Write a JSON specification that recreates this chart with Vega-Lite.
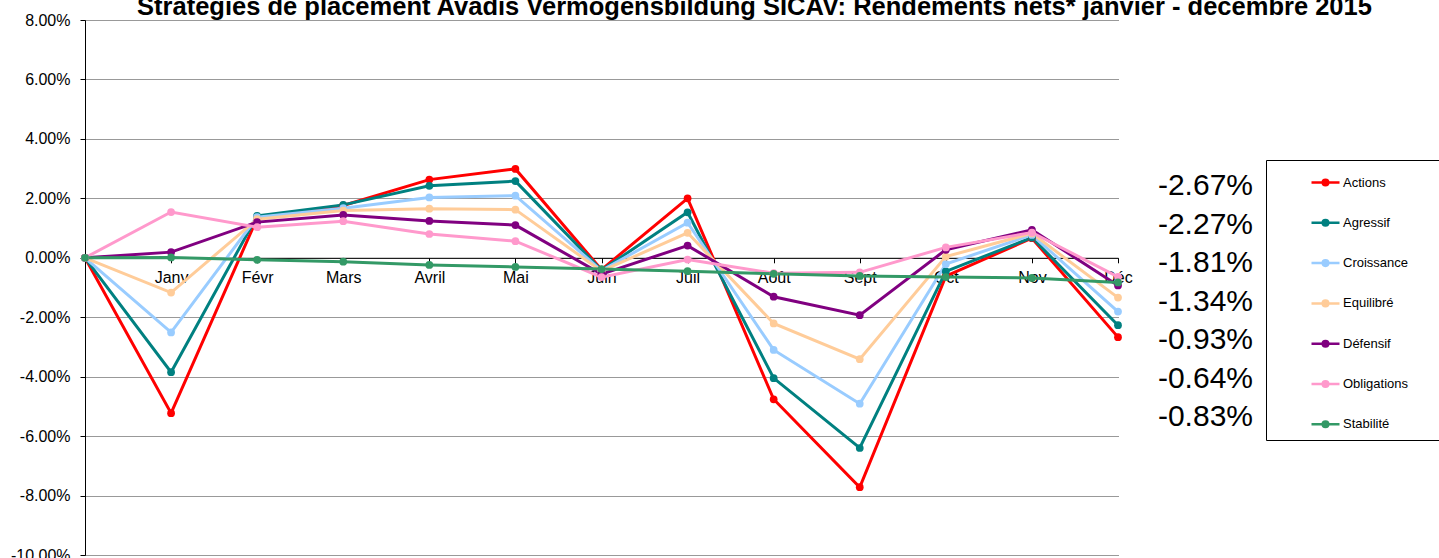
{
  "$schema": "https://vega.github.io/schema/vega-lite/v6.json",
  "autosize": {"type": "none"},
  "padding": {"left": 85, "top": 20, "right": 321, "bottom": 3},
  "width": 1033,
  "height": 535,
  "background": "white",
  "config": {"font": "Liberation Sans", "view": {"stroke": null}},
  "title": {
    "text": "Stratégies de placement Avadis Vermögensbildung SICAV: Rendements nets* janvier - décembre 2015",
    "fontSize": 25.5, "fontWeight": "bold", "font": "Liberation Sans", "color": "#000",
    "anchor": "middle", "frame": "group", "dx": 153, "offset": -8
  },
  "datasets": {
    "rows": [
      {"series": "Actions", "m": 0, "v": 0}, {"series": "Actions", "m": 1, "v": -0.0523}, {"series": "Actions", "m": 2, "v": 0.0133}, {"series": "Actions", "m": 3, "v": 0.0176}, {"series": "Actions", "m": 4, "v": 0.0263}, {"series": "Actions", "m": 5, "v": 0.0299}, {"series": "Actions", "m": 6, "v": -0.0040}, {"series": "Actions", "m": 7, "v": 0.0200}, {"series": "Actions", "m": 8, "v": -0.0476}, {"series": "Actions", "m": 9, "v": -0.0772}, {"series": "Actions", "m": 10, "v": -0.0062}, {"series": "Actions", "m": 11, "v": 0.0066}, {"series": "Actions", "m": 12, "v": -0.0267},
      {"series": "Agressif", "m": 0, "v": 0}, {"series": "Agressif", "m": 1, "v": -0.0385}, {"series": "Agressif", "m": 2, "v": 0.0141}, {"series": "Agressif", "m": 3, "v": 0.0178}, {"series": "Agressif", "m": 4, "v": 0.0242}, {"series": "Agressif", "m": 5, "v": 0.0258}, {"series": "Agressif", "m": 6, "v": -0.0042}, {"series": "Agressif", "m": 7, "v": 0.0153}, {"series": "Agressif", "m": 8, "v": -0.0405}, {"series": "Agressif", "m": 9, "v": -0.0640}, {"series": "Agressif", "m": 10, "v": -0.0046}, {"series": "Agressif", "m": 11, "v": 0.0068}, {"series": "Agressif", "m": 12, "v": -0.0227},
      {"series": "Croissance", "m": 0, "v": 0}, {"series": "Croissance", "m": 1, "v": -0.0251}, {"series": "Croissance", "m": 2, "v": 0.0137}, {"series": "Croissance", "m": 3, "v": 0.0167}, {"series": "Croissance", "m": 4, "v": 0.0203}, {"series": "Croissance", "m": 5, "v": 0.0209}, {"series": "Croissance", "m": 6, "v": -0.0043}, {"series": "Croissance", "m": 7, "v": 0.0118}, {"series": "Croissance", "m": 8, "v": -0.0310}, {"series": "Croissance", "m": 9, "v": -0.0491}, {"series": "Croissance", "m": 10, "v": -0.0021}, {"series": "Croissance", "m": 11, "v": 0.0077}, {"series": "Croissance", "m": 12, "v": -0.0181},
      {"series": "Equilibré", "m": 0, "v": 0}, {"series": "Equilibré", "m": 1, "v": -0.0117}, {"series": "Equilibré", "m": 2, "v": 0.0130}, {"series": "Equilibré", "m": 3, "v": 0.0159}, {"series": "Equilibré", "m": 4, "v": 0.0165}, {"series": "Equilibré", "m": 5, "v": 0.0162}, {"series": "Equilibré", "m": 6, "v": -0.0045}, {"series": "Equilibré", "m": 7, "v": 0.0084}, {"series": "Equilibré", "m": 8, "v": -0.0221}, {"series": "Equilibré", "m": 9, "v": -0.0341}, {"series": "Equilibré", "m": 10, "v": 0.0004}, {"series": "Equilibré", "m": 11, "v": 0.0082}, {"series": "Equilibré", "m": 12, "v": -0.0134},
      {"series": "Défensif", "m": 0, "v": 0}, {"series": "Défensif", "m": 1, "v": 0.0019}, {"series": "Défensif", "m": 2, "v": 0.0120}, {"series": "Défensif", "m": 3, "v": 0.0144}, {"series": "Défensif", "m": 4, "v": 0.0124}, {"series": "Défensif", "m": 5, "v": 0.0110}, {"series": "Défensif", "m": 6, "v": -0.0055}, {"series": "Défensif", "m": 7, "v": 0.0041}, {"series": "Défensif", "m": 8, "v": -0.0131}, {"series": "Défensif", "m": 9, "v": -0.0193}, {"series": "Défensif", "m": 10, "v": 0.0027}, {"series": "Défensif", "m": 11, "v": 0.0094}, {"series": "Défensif", "m": 12, "v": -0.0093},
      {"series": "Obligations", "m": 0, "v": 0}, {"series": "Obligations", "m": 1, "v": 0.0154}, {"series": "Obligations", "m": 2, "v": 0.0103}, {"series": "Obligations", "m": 3, "v": 0.0123}, {"series": "Obligations", "m": 4, "v": 0.0080}, {"series": "Obligations", "m": 5, "v": 0.0056}, {"series": "Obligations", "m": 6, "v": -0.0065}, {"series": "Obligations", "m": 7, "v": -0.0006}, {"series": "Obligations", "m": 8, "v": -0.0052}, {"series": "Obligations", "m": 9, "v": -0.0049}, {"series": "Obligations", "m": 10, "v": 0.0035}, {"series": "Obligations", "m": 11, "v": 0.0085}, {"series": "Obligations", "m": 12, "v": -0.0064},
      {"series": "Stabilité", "m": 0, "v": 0}, {"series": "Stabilité", "m": 1, "v": 0.0001}, {"series": "Stabilité", "m": 2, "v": -0.0007}, {"series": "Stabilité", "m": 3, "v": -0.0013}, {"series": "Stabilité", "m": 4, "v": -0.0024}, {"series": "Stabilité", "m": 5, "v": -0.0031}, {"series": "Stabilité", "m": 6, "v": -0.0038}, {"series": "Stabilité", "m": 7, "v": -0.0045}, {"series": "Stabilité", "m": 8, "v": -0.0054}, {"series": "Stabilité", "m": 9, "v": -0.0061}, {"series": "Stabilité", "m": 10, "v": -0.0065}, {"series": "Stabilité", "m": 11, "v": -0.0068}, {"series": "Stabilité", "m": 12, "v": -0.0083}
    ]
  },
  "data": {"name": "rows"},
  "layer": [
    {
      "mark": {"type": "line", "strokeWidth": 3, "point": {"filled": true, "size": 60, "opacity": 1}},
      "encoding": {
        "x": {
          "field": "m", "type": "quantitative",
          "scale": {"domain": [0, 12], "nice": false, "zero": false},
          "axis": {
            "values": [0, 1, 2, 3, 4, 5, 6, 7, 8, 9, 10, 11, 12],
            "labelExpr": "['', 'Janv', 'Févr', 'Mars', 'Avril', 'Mai', 'Juin', 'Juil', 'Août', 'Sept', 'Oct', 'Nov', 'Déc'][datum.value]",
            "offset": -297.2, "grid": false, "tickSize": 5, "tickColor": "#000", "domainColor": "#000",
            "labelFontSize": 16, "labelFont": "Liberation Sans", "labelColor": "#000", "labelPadding": 7,
            "labelFlush": false, "labelOverlap": false, "title": null
          }
        },
        "y": {
          "field": "v", "type": "quantitative",
          "scale": {"domain": [-0.1, 0.08], "nice": false, "zero": false},
          "axis": {
            "values": [-0.1, -0.08, -0.06, -0.04, -0.02, 0, 0.02, 0.04, 0.06, 0.08],
            "labelExpr": "replace(format(datum.value, '.2%'), '\u2212', '-')",
            "tickSize": 5, "tickColor": "#000", "domainColor": "#000",
            "labelFontSize": 16, "labelFont": "Liberation Sans", "labelColor": "#000", "labelPadding": 10,
            "gridColor": "#333", "gridDash": [1, 1], "gridOpacity": 1, "title": null, "labelOverlap": false
          }
        },
        "color": {
          "field": "series", "type": "nominal",
          "scale": {
            "domain": ["Actions", "Agressif", "Croissance", "Equilibré", "Défensif", "Obligations", "Stabilité"],
            "range": ["#FF0000", "#008080", "#99CCFF", "#FFCC99", "#800080", "#FF99CC", "#339966"]
          },
          "legend": {
            "orient": "none", "legendX": 1181, "legendY": 140,
            "title": "2015", "titleOrient": "right", "titleFontSize": 9, "titlePadding": 3, "titleOpacity": 0,
            "strokeColor": "#000", "fillColor": "#fff", "padding": 7,
            "symbolOffset": 37, "labelOffset": 2, "rowPadding": 16.3,
            "symbolType": "M-1,0L1,0M-0.2,0A0.2,0.2,0,1,0,0.2,0A0.2,0.2,0,1,0,-0.2,0Z",
            "symbolSize": 784, "symbolStrokeWidth": 2.5,
            "labelFontSize": 13, "labelFont": "Liberation Sans", "labelColor": "#000",
            "encode": {"symbols": {"update": {"fill": {"scale": "color", "field": "value"}, "stroke": {"scale": "color", "field": "value"}, "opacity": {"value": 1}}}}
          }
        }
      }
    },
    {
      "transform": [
        {"filter": "datum.m == 12"},
        {"calculate": "replace(format(datum.v, '.2%'), '\u2212', '-')", "as": "label"}
      ],
      "mark": {"type": "text", "align": "right", "baseline": "middle", "dx": 135, "fontSize": 30, "font": "Liberation Sans", "color": "#000"},
      "encoding": {
        "x": {"field": "m", "type": "quantitative"},
        "y": {
          "field": "series", "type": "nominal",
          "scale": {"type": "point", "domain": ["Actions", "Agressif", "Croissance", "Equilibré", "Défensif", "Obligations", "Stabilité"], "range": [166, 397], "padding": 0},
          "axis": null
        },
        "text": {"field": "label", "type": "nominal"}
      }
    }
  ],
  "resolve": {"scale": {"y": "independent"}}
}
